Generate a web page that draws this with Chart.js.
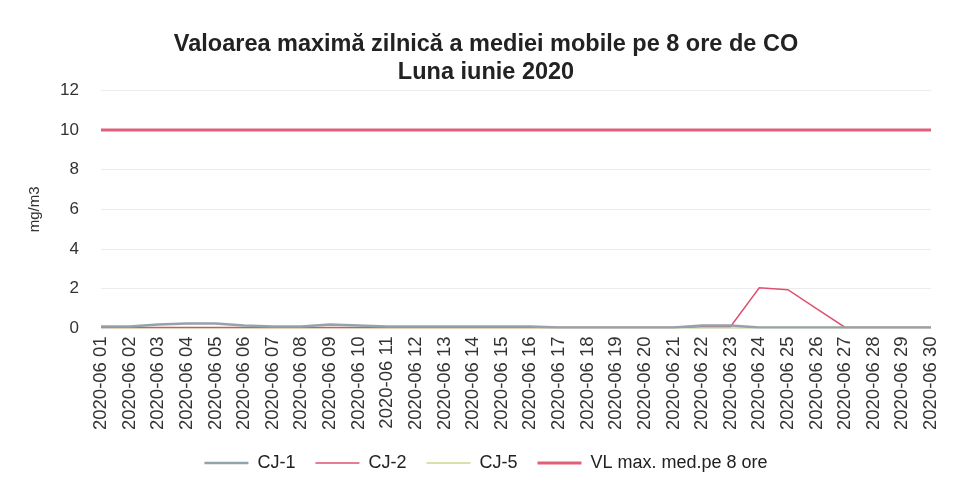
<!DOCTYPE html>
<html><head><meta charset="utf-8">
<script src="https://cdn.jsdelivr.net/npm/chart.js@4/dist/chart.umd.min.js"></script>
<style>html,body{margin:0;padding:0;background:#fff}#wrap{width:954px;height:488px}</style>
</head><body><div id="wrap"><canvas id="c" width="954" height="488"></canvas></div>
<script>
const days = ["01","02","03","04","05","06","07","08","09","10","11","12","13","14","15","16","17","18","19","20","21","22","23","24","25","26","27","28","29","30"];
const categories = days.map(d => "2020-06 " + d);
const cj1 = [0.1,0.1,0.2,0.25,0.25,0.15,0.1,0.1,0.2,0.15,0.1,0.1,0.1,0.1,0.1,0.1,0.05,0.05,0.05,0.05,0.05,0.15,0.15,0.05,0.05,0.05,0.05,0.05,0.05,0.05];
const cj2 = [0.05,0.05,0.05,0.05,0.05,0.05,0.05,0.05,0.05,0.05,0.05,0.05,0.05,0.05,0.05,0.05,0.05,0.05,0.05,0.05,0.05,0.1,0.1,2.05,1.95,1.0,0.05,0.05,0.05,0.05];
const cj5 = [0.02,0.02,0.02,0.02,0.02,0.02,0.02,0.02,0.02,0.02,0.02,0.02,0.02,0.02,0.02,0.02,0.02,0.02,0.02,0.02,0.02,0.02,0.02,0.02,0.02,0.02,0.02,0.02,0.02,0.02];
const vl = [10,10,10,10,10,10,10,10,10,10,10,10,10,10,10,10,10,10,10,10,10,10,10,10,10,10,10,10,10,10];
const yTicks = [0,2,4,6,8,10,12];

new Chart(document.getElementById('c'), {
  type: 'line',
  data: {
    labels: categories,
    datasets: [
      {label: 'CJ-1', data: cj1, borderColor: '#93a3ab', borderWidth: 2.5, pointRadius: 0, tension: 0},
      {label: 'CJ-2', data: cj2, borderColor: '#e0506e', borderWidth: 1.5, pointRadius: 0, tension: 0},
      {label: 'CJ-5', data: cj5, borderColor: '#c8d890', borderWidth: 1.5, pointRadius: 0, tension: 0},
      {label: 'VL max. med.pe 8 ore', data: vl, borderColor: '#e0607a', borderWidth: 3, pointRadius: 0, tension: 0}
    ]
  },
  options: {
    responsive: false,
    animation: false,
    layout: {padding: {left: 26, right: 8, top: 28, bottom: 6}},
    plugins: {
      title: {
        display: true,
        text: ['Valoarea maximă zilnică a mediei mobile pe 8 ore de CO', 'Luna iunie 2020'],
        font: {family: 'Liberation Sans', size: 23.5, weight: 'bold'},
        color: '#222',
        padding: {top: 2, bottom: 4},
        lineHeight: 1.28
      },
      legend: {
        position: 'bottom',
        labels: {
          usePointStyle: true,
          pointStyle: 'line',
          pointStyleWidth: 44,
          boxWidth: 44,
          padding: 20,
          font: {family: 'Liberation Sans', size: 18},
          color: '#222'
        }
      },
      tooltip: {enabled: false}
    },
    scales: {
      x: {
        offset: false,
        grid: {display: false, drawTicks: false},
        border: {display: false},
        afterFit: (ax) => { ax.height -= 4; ax.paddingRight = 23; ax.paddingLeft = 0; },
        ticks: {
          minRotation: 90, maxRotation: 90, autoSkip: false,
          font: {family: 'Liberation Sans', size: 18.5},
          color: '#333',
          padding: 8
        }
      },
      y: {
        min: 0, max: 12,
        afterBuildTicks: (ax) => { ax.ticks = yTicks.map(v => ({value: v})); },
        afterFit: (ax) => { ax.width = 75; },
        grid: {color: '#ececec', drawTicks: false},
        border: {display: false},
        ticks: {
          padding: 22,
          font: {family: 'Liberation Sans', size: 17},
          color: '#333'
        },
        title: {
          display: true,
          text: 'mg/m3',
          font: {family: 'Liberation Sans', size: 15},
          color: '#333',
          padding: {top: 0, bottom: 0}
        }
      }
    }
  }
});
</script>
</body></html>
